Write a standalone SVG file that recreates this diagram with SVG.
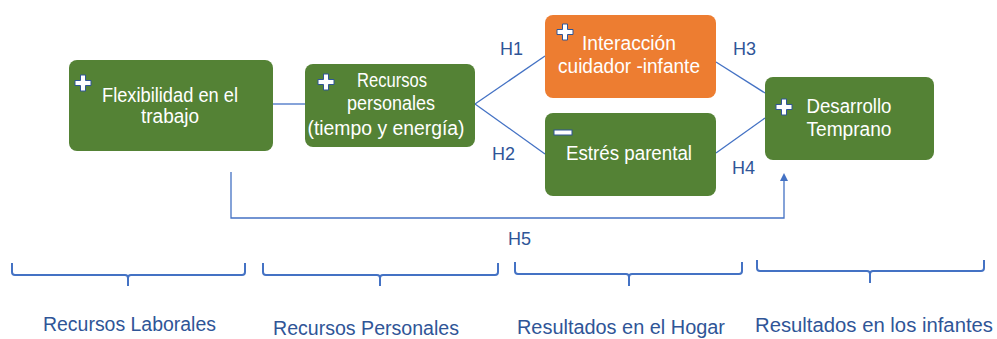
<svg xmlns="http://www.w3.org/2000/svg" width="997" height="339" viewBox="0 0 997 339">
<defs>
<style>
.g{fill:#548235}
.o{fill:#ED7D31}
.t{font-family:"Liberation Sans",Arial,sans-serif;font-size:19.5px;fill:#ffffff;text-anchor:middle}
.h{font-family:"Liberation Sans",Arial,sans-serif;font-size:18px;fill:#2F5597}
.c{font-family:"Liberation Sans",Arial,sans-serif;font-size:19.5px;fill:#2F5597}
.ln{stroke:#4472C4;stroke-width:1.3;fill:none}
.br{stroke:#4472C4;stroke-width:2;fill:none;stroke-linejoin:round}
.ic{fill:#ffffff;stroke:#2F5597;stroke-width:1}
</style>
<path id="plus" d="M-2.5,-8 H2.5 V-2.5 H8 V2.5 H2.5 V8 H-2.5 V2.5 H-8 V-2.5 H-2.5 Z"/>
<marker id="arr" markerWidth="8" markerHeight="8" refX="4" refY="4" orient="auto" markerUnits="userSpaceOnUse">
<path d="M0,0 L8,4 L0,8 Z" fill="#4472C4"/>
</marker>
</defs>
<rect width="997" height="339" fill="#ffffff"/>
<g id="connectors">
<line class="ln" x1="273" y1="104" x2="305" y2="104"/>
<line class="ln" x1="475" y1="104" x2="545" y2="56"/>
<line class="ln" x1="475" y1="104" x2="545" y2="154"/>
<line class="ln" x1="716" y1="62" x2="765" y2="93" stroke-width="0.9"/>
<line class="ln" x1="716" y1="153" x2="765" y2="118"/>
<polyline class="ln" points="231,172 231,218 784,218 784,177" stroke-width="1" marker-end="url(#arr)"/>
<text class="h" x="500" y="55">H1</text>
<text class="h" x="492" y="160">H2</text>
<text class="h" x="733" y="55">H3</text>
<text class="h" x="732" y="174">H4</text>
<text class="h" x="508" y="245">H5</text>
</g>
<g id="n1">
<rect class="g" x="69" y="60" width="204" height="91" rx="8"/>
<use href="#plus" class="ic" x="83" y="83"/>
<text class="t" x="170" y="102" textLength="136" lengthAdjust="spacingAndGlyphs">Flexibilidad en el</text>
<text class="t" x="170" y="123" textLength="58" lengthAdjust="spacingAndGlyphs">trabajo</text>
</g>
<g id="n2">
<rect class="g" x="305" y="64" width="170" height="83" rx="8"/>
<use href="#plus" class="ic" x="326" y="82"/>
<text class="t" x="392" y="87" textLength="70" lengthAdjust="spacingAndGlyphs">Recursos</text>
<text class="t" x="391" y="110" textLength="88" lengthAdjust="spacingAndGlyphs">personales</text>
<text class="t" x="386" y="135" textLength="157" lengthAdjust="spacingAndGlyphs">(tiempo y energía)</text>
</g>
<g id="n3">
<rect class="o" x="545" y="15" width="171" height="83" rx="8"/>
<use href="#plus" class="ic" x="565" y="32"/>
<text class="t" x="629" y="50" textLength="94" lengthAdjust="spacingAndGlyphs">Interacción</text>
<text class="t" x="629" y="73" textLength="142" lengthAdjust="spacingAndGlyphs">cuidador -infante</text>
</g>
<g id="n4">
<rect class="g" x="545" y="113" width="171" height="83" rx="8"/>
<rect class="ic" x="554" y="130" width="18" height="5"/>
<text class="t" x="629" y="160" textLength="126" lengthAdjust="spacingAndGlyphs">Estrés parental</text>
</g>
<g id="n5">
<rect class="g" x="765" y="77" width="169" height="83" rx="8"/>
<use href="#plus" class="ic" x="784" y="107"/>
<text class="t" x="849" y="113" textLength="85" lengthAdjust="spacingAndGlyphs">Desarrollo</text>
<text class="t" x="849" y="136" textLength="85" lengthAdjust="spacingAndGlyphs">Temprano</text>
</g>
<g id="braces">
<path class="br" d="M12,263 V272 Q12,275 15,275 H125 Q128,275 128,278 V286 M128,278 Q128,275 131,275 H242 Q245,275 245,272 V263"/>
<path class="br" d="M263,263 V272 Q263,275 266,275 H377 Q380,275 380,278 V286 M380,278 Q380,275 383,275 H495 Q498,275 498,272 V263"/>
<path class="br" d="M515,262 V271 Q515,274 518,274 H626 Q629,274 629,277 V286 M629,277 Q629,274 632,274 H739 Q742,274 742,271 V262"/>
<path class="br" d="M757,260 V268 Q757,271 760,271 H867 Q870,271 870,274 V283 M870,274 Q870,271 873,271 H981 Q984,271 984,268 V260"/>
<text class="c" x="43" y="331" textLength="173" lengthAdjust="spacingAndGlyphs">Recursos Laborales</text>
<text class="c" x="273" y="335" textLength="186" lengthAdjust="spacingAndGlyphs">Recursos Personales</text>
<text class="c" x="517" y="334" textLength="208" lengthAdjust="spacingAndGlyphs">Resultados en el Hogar</text>
<text class="c" x="755" y="332" textLength="238" lengthAdjust="spacingAndGlyphs">Resultados en los infantes</text>
</g>
</svg>
